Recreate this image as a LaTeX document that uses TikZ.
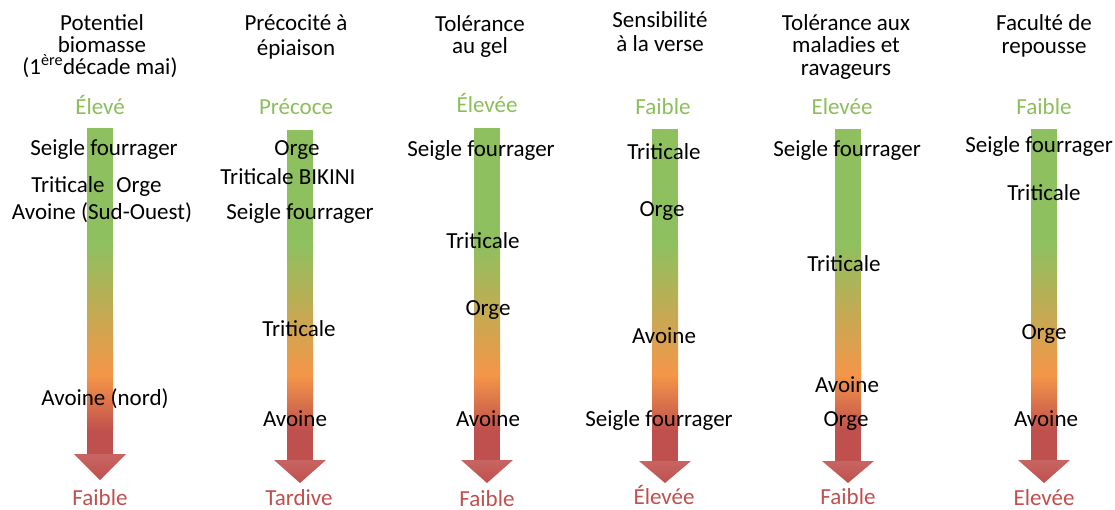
\documentclass[tikz,border=0pt]{standalone}
\usepackage{fontspec}
\setmainfont{Carlito}
\definecolor{agreen}{RGB}{143,192,95}
\definecolor{aorange}{RGB}{245,150,72}
\definecolor{ared}{RGB}{192,80,77}
\definecolor{lgreen}{RGB}{140,190,90}
\definecolor{lred}{RGB}{192,80,77}
\newcommand{\vararrow}[4]{%
  \fill[agreen] (#1-13,#2) rectangle (#1+13,245.5);
  \shade[top color=agreen,bottom color=aorange] (#1-13,245) rectangle (#1+13,375.5);
  \shade[top color=aorange,bottom color=ared] (#1-13,375) rectangle (#1+13,430.5);
  \fill[ared] (#1-13,430) rectangle (#1+13,#3+0.5);
  \shade[top color=ared!88!white,bottom color=ared] (#1-26,#3) -- (#1,#4) -- (#1+26,#3) -- cycle;
}
\begin{document}
\begin{tikzpicture}[x=1pt,y=-1pt,
  lab/.style={font=\fontsize{23}{23}\selectfont, anchor=base, inner sep=0pt},
  hi/.style={lab, text=lgreen},
  lo/.style={lab, text=lred}]
\useasboundingbox (0,0) rectangle (1115,510);
\fill[white] (0,0) rectangle (1115,510);

% arrows
\vararrow{100}{128}{454}{480}
\vararrow{300}{130}{460}{483}
\vararrow{487}{128}{460}{483}
\vararrow{665}{129}{461}{483}
\vararrow{848}{129}{461}{483}
\vararrow{1044}{129}{460}{483}

% headers
\node[lab] (h1a) at (102,31) {Potentiel};
\node[lab] (h1b) at (102,53) {biomasse};
\node[lab] (h1c) at (100,75) {(1\textsuperscript{ère}décade mai)};
\node[lab] (h2a) at (296,31) {Précocité à};
\node[lab] (h2b) at (296,56) {épiaison};
\node[lab] (h3a) at (480,32) {Tolérance};
\node[lab] (h3b) at (480,54) {au gel};
\node[lab] (h4a) at (660,28) {Sensibilité};
\node[lab] (h4b) at (660,52) {à la verse};
\node[lab] (h5a) at (846,31) {Tolérance aux};
\node[lab] (h5b) at (846,53) {maladies et};
\node[lab] (h5c) at (846,76) {ravageurs};
\node[lab] (h6a) at (1044,31) {Faculté de};
\node[lab] (h6b) at (1044,54) {repousse};

% top values
\node[hi] (t1) at (100,115) {Élevé};
\node[hi] (t2) at (296,115) {Précoce};
\node[hi] (t3) at (487,113) {Élevée};
\node[hi] (t4) at (663,115) {Faible};
\node[hi] (t5) at (842,115) {Elevée};
\node[hi] (t6) at (1044,115) {Faible};

% bottom values
\node[lo] (b1) at (100,505) {Faible};
\node[lo] (b2) at (299,505) {Tardive};
\node[lo] (b3) at (487,506) {Faible};
\node[lo] (b4) at (664,504) {Élevée};
\node[lo] (b5) at (848,504) {Faible};
\node[lo] (b6) at (1044,505) {Elevée};

% column 1
\node[lab] (c1a) at (104,156) {Seigle fourrager};
\node[lab] (c1b) at (68,193) {Triticale};
\node[lab] (c1c) at (139,193) {Orge};
\node[lab] (c1d) at (102,220) {Avoine (Sud-Ouest)};
\node[lab] (c1e) at (105,405) {Avoine (nord)};
% column 2
\node[lab] (c2a) at (297,156) {Orge};
\node[lab] (c2b) at (288,185) {Triticale BIKINI};
\node[lab] (c2c) at (300,220) {Seigle fourrager};
\node[lab] (c2d) at (299,336) {Triticale};
\node[lab] (c2e) at (295,426) {Avoine};
% column 3
\node[lab] (c3a) at (481,157) {Seigle fourrager};
\node[lab] (c3b) at (483,249) {Triticale};
\node[lab] (c3c) at (488,315) {Orge};
\node[lab] (c3d) at (488,426) {Avoine};
% column 4
\node[lab] (c4a) at (664,160) {Triticale};
\node[lab] (c4b) at (662,217) {Orge};
\node[lab] (c4c) at (664,343) {Avoine};
\node[lab] (c4d) at (659,426) {Seigle fourrager};
% column 5
\node[lab] (c5a) at (847,157) {Seigle fourrager};
\node[lab] (c5b) at (844,272) {Triticale};
\node[lab] (c5c) at (847,392) {Avoine};
\node[lab] (c5d) at (846,426) {Orge};
% column 6
\node[lab] (c6a) at (1039,153) {Seigle fourrager};
\node[lab] (c6b) at (1044,201) {Triticale};
\node[lab] (c6c) at (1044,339) {Orge};
\node[lab] (c6d) at (1046,426) {Avoine};
\end{tikzpicture}
\end{document}
